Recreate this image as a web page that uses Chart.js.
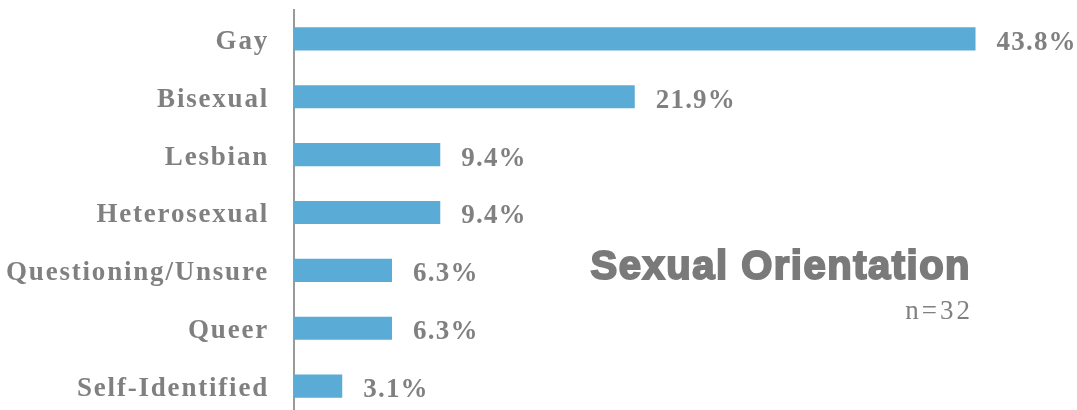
<!DOCTYPE html>
<html>
<head>
<meta charset="utf-8">
<script src="https://cdn.jsdelivr.net/npm/chart.js@4"></script>
<style>
  html, body { margin: 0; padding: 0; background: #fff; overflow: hidden; }
</style>
</head>
<body>
<canvas id="chart" width="1077" height="416"></canvas>
<script>
// Daten
const categories = ["Gay", "Bisexual", "Lesbian", "Heterosexual", "Questioning/Unsure", "Queer", "Self-Identified"];
const percentages = [43.8, 21.9, 9.4, 9.4, 6.3, 6.3, 3.1];
const titleText = "Sexual Orientation";
const sampleText = "n=32";

const grey = "#808080";
const serif = "'Liberation Serif', 'DejaVu Serif', serif";

// Prozentwerte rechts neben die Balken schreiben + Titel
const labelPlugin = {
  id: "labels",
  beforeDraw(chart) {
    chart.ctx.letterSpacing = "1.8px";
  },
  afterDatasetsDraw(chart) {
    const ctx = chart.ctx;
    const meta = chart.getDatasetMeta(0);
    ctx.save();
    ctx.letterSpacing = "1.2px";
    ctx.font = "bold 27px " + serif;
    ctx.fillStyle = grey;
    ctx.textAlign = "left";
    ctx.textBaseline = "middle";
    meta.data.forEach((bar, i) => {
      ctx.fillText(percentages[i].toFixed(1) + "%", bar.x + 21, bar.y + 4);
    });

    // Titel
    ctx.letterSpacing = "1.5px";
    ctx.textAlign = "right";
    ctx.textBaseline = "alphabetic";
    ctx.fillStyle = "#7a7a7a";
    ctx.strokeStyle = "#7a7a7a";
    ctx.lineWidth = 2;
    ctx.font = "bold 40px 'Liberation Sans', Arial, sans-serif";
    ctx.fillText(titleText, 971, 279);
    ctx.strokeText(titleText, 971, 279);
    ctx.letterSpacing = "3px";
    ctx.font = "27px " + serif;
    ctx.fillStyle = grey;
    ctx.fillText(sampleText, 973, 319);
    ctx.restore();
  }
};

new Chart(document.getElementById("chart"), {
  type: "bar",
  data: {
    labels: categories,
    datasets: [{
      data: percentages,
      backgroundColor: "#5aabd6",
      borderWidth: 0,
      barPercentage: 0.4,
      categoryPercentage: 1
    }]
  },
  options: {
    indexAxis: "y",
    responsive: false,
    animation: false,
    layout: { padding: { top: 10, bottom: 1, left: 0, right: 5 } },
    plugins: {
      legend: { display: false },
      tooltip: { enabled: false }
    },
    scales: {
      x: {
        display: false,
        min: 0,
        max: 50
      },
      y: {
        grid: { display: false, drawTicks: false },
        border: { display: true, color: "#9a9a9a", width: 2 },
        ticks: {
          color: grey,
          padding: 25,
          labelOffset: 3,
          font: { family: serif, size: 27, weight: "bold" }
        },
        // feste Breite, kein Zusatzabstand oben/unten
        afterFit(scale) {
          scale.width = 294;
          scale.paddingTop = 0;
          scale.paddingBottom = 0;
        }
      }
    }
  },
  plugins: [labelPlugin]
});
</script>
</body>
</html>
